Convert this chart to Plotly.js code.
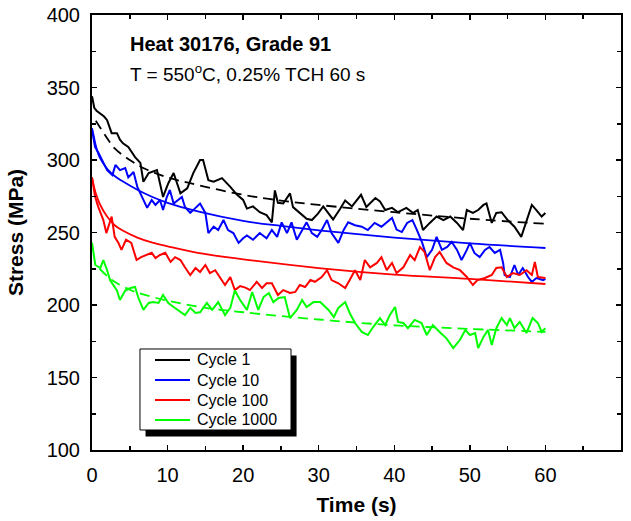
<!DOCTYPE html>
<html>
<head>
<meta charset="utf-8">
<script src="https://cdn.plot.ly/plotly-3.0.1.min.js"></script>
<style>html,body{margin:0;padding:0;background:#fff;}#chart{width:631px;height:521px;}</style>
</head>
<body>
<div id="chart"></div>
<script>
// ---- Data ----
var tC1 = [0,0.3,0.6,1.1,1.6,2.0,2.6,3.3,3.7,4.1,4.8,5.7,6.4,6.8,7.5,8.6,9.4,10.1,10.8,11.7,12.6,13.4,14.3,14.7,15.4,16.1,17.2,18.3,19.2,20.0,20.5,21.3,22.2,23.1,23.8,24.2,24.6,25.3,26.2,26.6,27.5,28.4,29.1,29.9,30.6,31.3,31.9,32.8,33.5,34.4,35.0,35.6,36.3,36.9,37.5,38.1,38.8,39.7,40.5,41.6,42.5,43.1,43.8,44.7,45.6,46.5,47.4,48.3,49.1,49.6,50.4,51.1,51.8,52.2,52.9,53.5,54.2,55.0,55.9,56.8,57.5,58.2,58.8,59.5,60];
var sC1 = [344,336,334,332,330,327.5,318.5,318.5,314,311.5,309,302,298,285,291,293,274.5,284,291,277,280.5,291,300,300,286,285,287.5,281.5,276,272.5,266.5,268,264,262,257,279,270.5,270,277,267.5,263.5,259.5,258.6,263,268,263,259,266,272,268,272,276,267.6,271,273.8,271.5,265.5,267,264,267,263.5,265.5,251.7,256.6,261,258.6,261,256.6,251.7,265.5,263.5,265.5,269,270,256.6,263.5,264,258.6,254,247,258.6,269,265.5,261,263.5];

var tC10 = [0,0.4,0.85,1.5,2.0,2.7,3.1,3.7,4.4,4.8,5.5,6.0,6.6,7.3,7.9,8.4,9.0,9.4,9.9,10.3,10.8,11.4,11.9,12.3,13.0,13.7,14.3,15.0,15.4,16.1,16.7,17.4,18.0,18.7,19.4,20.0,20.5,21.3,22.2,23.1,23.8,24.5,25.1,25.8,26.4,27.1,27.8,28.4,29.1,29.8,30.4,31.1,31.7,32.6,33.3,33.9,34.8,35.7,36.5,37.4,38.3,39.0,39.7,40.3,41.0,41.7,42.4,43.0,43.7,44.3,45.0,45.6,46.3,47.0,47.6,48.3,48.9,49.6,50.0,50.6,51.3,52.0,52.6,53.3,54.0,54.4,54.6,55.3,55.9,56.4,57.0,57.7,58.2,58.8,59.7,60];
var sC10 = [321,309,305,298,293,289.6,296.6,293,294.5,288,291.7,281.4,274.5,267,272.4,269,272.4,265.5,274.5,279.3,270,272.4,274.5,267.6,263.5,267,270,263.5,249.6,254,251.7,258.6,251.7,249.6,242.8,246,248,245,249.6,246,251.7,247,257,249.6,257,245,251.7,257,249.6,247,251.7,258.6,249.6,242.8,251.7,257,255,254,251.7,256.6,254,257,260,252,250.3,256.6,258.6,251.7,242.8,233,238,247,238,240,243.5,238,231,238,242.8,235.9,233,238,240,235.9,238,229,220.7,219.3,227.6,220.7,225.5,219.3,215.9,218.6,217.2,218];

var tC100 = [0,0.4,0.8,1.5,1.9,2.6,3.0,3.5,3.9,4.5,5.2,5.9,6.5,7.2,7.9,8.4,9.0,9.7,10.4,11.0,11.7,12.3,13.0,13.7,14.3,15.0,15.6,16.3,17.0,17.6,18.3,18.9,19.6,20.3,20.9,21.8,22.5,23.1,23.8,24.6,25.3,26.2,26.9,27.5,28.2,28.9,29.5,30.4,31.1,31.7,32.6,33.5,34.1,34.8,35.5,36.1,36.8,37.7,38.3,39.0,39.7,40.3,41.2,42.1,42.7,43.4,44.0,44.7,45.4,46.0,46.9,47.8,48.7,49.6,50.4,51.0,52.0,52.9,53.5,54.2,54.9,55.7,56.6,57.5,58.2,58.6,59.0,60];
var sC100 = [288,275,268,258.6,249.6,261,247,242.8,238,245,242.8,231,233,234.5,236,232.4,234.5,236,229.7,233,231,226,220.7,225.5,222.8,227.6,222,224,218.6,213.8,219.3,210.3,213,212,210.3,216,211.7,215,215,206.9,210.3,208.3,209,213.8,212.4,217.2,216,219.3,224,217.2,215,211.7,217.2,224,217.2,231,226,229,233,224,229,222,226,234.5,231,240,236.6,224,233,236.6,229,226,224,219.3,213.8,217.2,218.6,220.7,225.5,226,219.3,222,220.7,224,220.7,229.7,219.3,218.6];

var tC1000 = [0,0.44,1.1,1.5,2.0,2.4,3.3,3.7,4.4,5.1,5.7,6.1,6.8,7.5,8.1,8.8,9.4,10.1,10.8,11.4,12.3,13.0,13.7,14.3,15.2,15.9,16.7,17.6,18.3,18.9,19.6,20.5,21.2,22.0,22.7,23.4,24.0,24.7,25.5,26.2,27.1,27.8,28.4,29.3,30.2,31.3,32.0,32.6,33.5,34.1,34.8,35.7,36.5,37.2,38.1,38.8,39.4,40.1,40.5,41.2,41.8,42.7,43.6,44.3,45.1,46.0,46.9,47.8,48.7,49.4,50.0,50.7,51.1,51.8,52.4,52.9,53.5,54.2,54.9,55.3,55.9,56.6,57.5,58.3,59.0,59.5,60];
var sC1000 = [243,227.6,225.5,231,224,217,210,203.4,210,211.7,212.4,205.5,196.6,201.4,202,201.4,206.9,201.4,198.6,196.6,193,198,194.5,195,201.4,196.6,202,193,198,210,203.4,196.6,209,196.6,205.5,208.3,202,204.8,205.5,191,196.6,203.4,198.6,202,202,196.6,191.7,198,202,194.5,187.6,181.4,179.3,184.8,191,186.2,193,198.6,188.3,187.6,184,189.7,187.6,179.3,186.2,181.4,177,170.3,176,182.8,179.3,180.7,170.3,178,182.8,172.4,184,191,186.2,191,184,188.3,180.7,191,187.6,181.4,184];

// fitted curves (read at sample times)
var tFit1 = [0.5,1,2,3,5,7,10,13,20,25,30,40,50,60];
var sFit1 = [327,323,315,308,300,294,288,284,276,272,269,264,259.5,256];
var tFit10 = [0,0.25,0.5,1,2,3,4,6,8,10,14,20,25,30,40,50,60];
var sFit10 = [322,316,310,302,294,289,285.5,279.5,274.5,270.5,264.5,258,254.5,251.5,246.5,242.5,239.3];
var tFit100 = [0,0.25,0.5,1,2,3,4,6,8,10,14,20,30,40,50,60];
var sFit100 = [288,282,277,270,261,255,251.5,246.5,243,240.5,236,231.5,225.5,221,218,214.5];
var tFit1000 = [1,2,3,5,7,10,15,20,30,40,50,60];
var sFit1000 = [225,220,216,210.5,207,203,198,195,190,186,183.5,181.5];

var names = ['Cycle 1','Cycle 10','Cycle 100','Cycle 1000'];
var colors = ['#000000','#0000ff','#ff0000','#00ff00'];
var xTicks = [0,10,20,30,40,50,60,70];
var yTicks = [100,150,200,250,300,350,400];

var FONT = 'Arial, "Liberation Sans", sans-serif';

var dataT = [tC1,tC10,tC100,tC1000];
var dataS = [sC1,sC10,sC100,sC1000];
var fitT = [tFit1,tFit10,tFit100,tFit1000];
var fitS = [sFit1,sFit10,sFit100,sFit1000];
var fitDash = ['dash','solid','solid','dash'];

var traces = [];
for (var i=0;i<4;i++){
  traces.push({x:dataT[i], y:dataS[i], type:'scatter', mode:'lines', name:names[i],
    line:{color:colors[i], width:2}, showlegend:false});
}
for (var j=0;j<4;j++){
  traces.push({x:fitT[j], y:fitS[j], type:'scatter', mode:'lines', name:names[j]+' fit',
    line:{color:colors[j], width:1.8, dash:fitDash[j]==='dash'?'10px,6px':'solid', shape:'spline'}, showlegend:false});
}

// legend box geometry (paper units)
var legX0 = 0.0907, legX1 = 0.3762, legY0 = 0.046, legY1 = 0.2322;
var shadowDx = 0.0105, shadowDy = 0.0150;
var legRowsY = [0.2069, 0.1609, 0.1149, 0.0690];
var sampleX0 = 0.1191, sampleX1 = 0.1853, textX = 0.1947;

var shapes = [
  {type:'rect', xref:'paper', yref:'paper', x0:legX0+shadowDx, x1:legX1+shadowDx, y0:legY0-shadowDy, y1:legY1-shadowDy,
   fillcolor:'#000', line:{width:0}, layer:'above'},
  {type:'rect', xref:'paper', yref:'paper', x0:legX0, x1:legX1, y0:legY0, y1:legY1,
   fillcolor:'#fff', line:{width:1, color:'#000'}, layer:'above'}
];
var annotations = [
  {x:4.8, y:379.7, xref:'x', yref:'y', xanchor:'left', yanchor:'middle', showarrow:false,
   text:'<b>Heat 30176, Grade 91</b>', font:{size:20, family:FONT, color:'#000'}},
  {x:4.8, y:360.3, xref:'x', yref:'y', xanchor:'left', yanchor:'middle', showarrow:false,
   text:'T = 550<sup>o</sup>C, 0.25% TCH 60 s', font:{size:19, family:FONT, color:'#000'}}
];
for (var k=0;k<4;k++){
  shapes.push({type:'line', xref:'paper', yref:'paper', x0:sampleX0, x1:sampleX1, y0:legRowsY[k], y1:legRowsY[k],
    line:{color:colors[k], width:2}, layer:'above'});
  annotations.push({x:textX, y:legRowsY[k], xref:'paper', yref:'paper', xanchor:'left', yanchor:'middle',
    showarrow:false, text:names[k], font:{size:16, family:FONT, color:'#000'}});
}

var layout = {
  width:631, height:521,
  margin:{l:92, r:10, t:15, b:71},
  paper_bgcolor:'#ffffff', plot_bgcolor:'#ffffff',
  font:{family:FONT, color:'#000', size:20},
  showlegend:false,
  xaxis:{range:[0,70], tickvals:xTicks, ticks:'inside', ticklen:5, tickwidth:1.5, tickcolor:'#000',
    minor:{dtick:5, ticks:'inside', ticklen:4, tickwidth:1.5, tickcolor:'#000'},
    showline:true, linecolor:'#000', linewidth:2, mirror:'ticks', showgrid:false, zeroline:false,
    tickfont:{size:20, family:FONT}, ticklabelstandoff:6,
    title:{text:'<b>Time (s)</b>', font:{size:21, family:FONT}, standoff:12}},
  yaxis:{range:[100,400], tickvals:yTicks, ticks:'inside', ticklen:5, tickwidth:1.5, tickcolor:'#000',
    minor:{dtick:25, ticks:'inside', ticklen:4, tickwidth:1.5, tickcolor:'#000'},
    showline:true, linecolor:'#000', linewidth:2, mirror:'ticks', showgrid:false, zeroline:false,
    tickfont:{size:20, family:FONT}, ticklabelstandoff:6,
    title:{text:'<b>Stress (MPa)</b>', font:{size:21, family:FONT}, standoff:17}},
  shapes:shapes,
  annotations:annotations
};

Plotly.newPlot('chart', traces, layout, {displayModeBar:false, staticPlot:true});
</script>
</body>
</html>
